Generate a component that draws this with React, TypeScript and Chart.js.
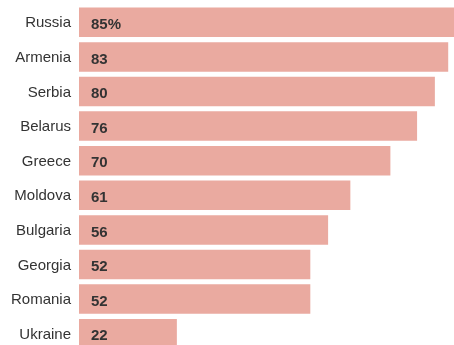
import React, { useEffect, useRef } from "react";
import { Chart, registerables } from "chart.js";

Chart.register(...registerables);

const countries = ["Russia", "Armenia", "Serbia", "Belarus", "Greece", "Moldova", "Bulgaria", "Georgia", "Romania", "Ukraine"];
const values = [85, 83, 80, 76, 70, 61, 56, 52, 52, 22];
const valueLabels = ["85%", "83", "80", "76", "70", "61", "56", "52", "52", "22"];

const BAR_COLOR = "#EAAAA0";
const FONT = "'Liberation Sans', Arial, sans-serif";

export default function App() {
  const ref = useRef<HTMLCanvasElement | null>(null);

  useEffect(() => {
    if (!ref.current) return;
    const valuePlugin = {
      id: "valueLabels",
      afterDatasetsDraw(chart: any) {
        const ctx = chart.ctx;
        const meta = chart.getDatasetMeta(0);
        ctx.save();
        ctx.font = "bold 15px " + FONT;
        ctx.fillStyle = "#333333";
        ctx.textAlign = "left";
        ctx.textBaseline = "middle";
        meta.data.forEach((bar: any, i: number) => {
          ctx.fillText(valueLabels[i], bar.base + 12, bar.y + 2.5);
        });
        ctx.restore();
      },
    };
    const chart = new Chart(ref.current, {
      type: "bar",
      data: {
        labels: countries,
        datasets: [
          {
            data: values,
            backgroundColor: BAR_COLOR,
            borderWidth: 0,
            barPercentage: 0.853,
            categoryPercentage: 1,
          },
        ],
      },
      options: {
        indexAxis: "y",
        animation: false,
        responsive: false,
        maintainAspectRatio: false,
        layout: { padding: { top: 5, right: 0, bottom: 0, left: 0 } },
        plugins: { legend: { display: false }, tooltip: { enabled: false } },
        scales: {
          x: { display: false, min: 0, max: 84.3 },
          y: {
            grid: { display: false, drawTicks: false },
            border: { display: false },
            ticks: { color: "#333333", font: { size: 15, family: FONT }, padding: 8, labelOffset: 1 },
            afterFit(scale: any) {
              scale.width = 79;
              scale.paddingTop = 0;
              scale.paddingBottom = 0;
            },
          },
        },
      },
      plugins: [valuePlugin],
    });
    return () => chart.destroy();
  }, []);

  return (
    <div style={{ position: "fixed", left: 0, top: 0, width: 454, height: 351, overflow: "hidden", background: "#fff" }}>
      <canvas ref={ref} width={454} height={351} style={{ display: "block" }} />
    </div>
  );
}
